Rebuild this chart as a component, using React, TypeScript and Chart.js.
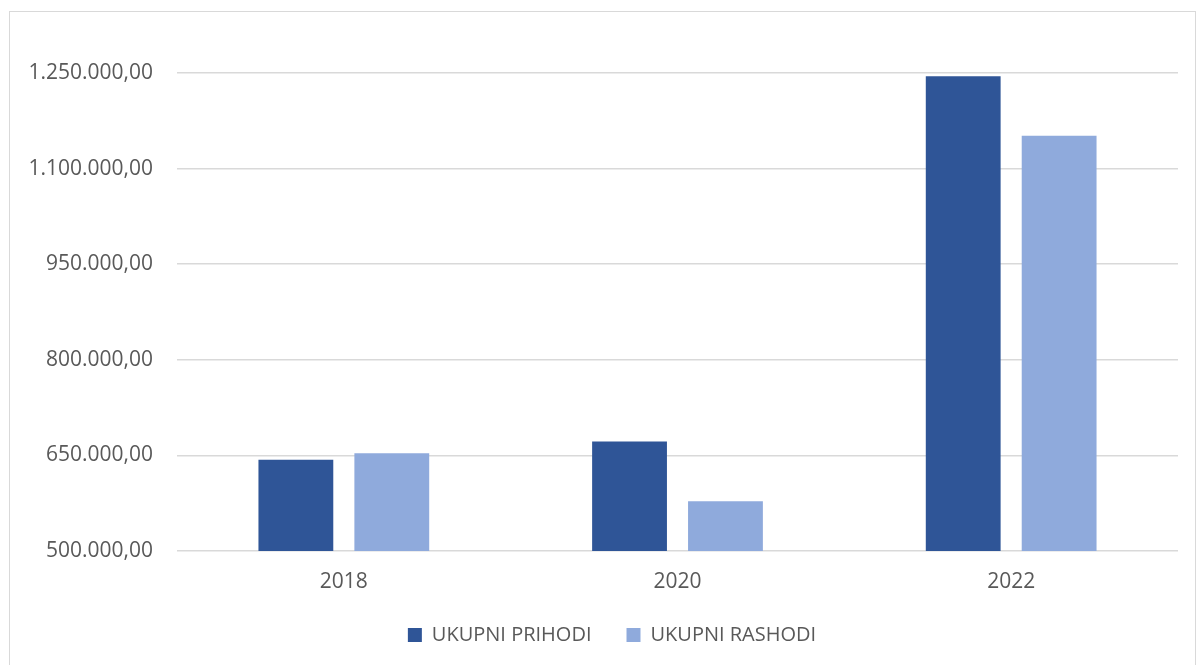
import React, { useEffect, useRef } from "react";
import { Chart, registerables } from "chart.js";

Chart.register(...registerables);

const categories = ["2018", "2020", "2022"];
const prihodi = [643000, 672000, 1245000];
const rashodi = [653500, 578000, 1151500];
const seriesNames = ["UKUPNI PRIHODI", "UKUPNI RASHODI"];
const yMin = 500000;
const yMax = 1250000;
const yStep = 150000;

function formatNumber(v: number): string {
  const intPart = Math.round(v).toString().replace(/\B(?=(\d{3})+(?!\d))/g, ".");
  return intPart + ",00";
}

const legendShift = {
  id: "legendShift",
  afterLayout(chart: any) {
    const lg = chart.legend;
    if (!lg) return;
    lg.left = 36;
    lg.right = chart.width - 16;
    const h = lg.bottom - lg.top;
    lg.top = lg.top - 20;
    lg.bottom = lg.top + h;
  },
};

export default function App() {
  const canvasRef = useRef<HTMLCanvasElement | null>(null);

  useEffect(() => {
    if (!canvasRef.current) return;
    const font = { family: "'Open Sans', sans-serif", size: 21 };
    const legendFont = { family: "'Open Sans', sans-serif", size: 20 };
    const chart = new Chart(canvasRef.current, {
      type: "bar",
      data: {
        labels: categories,
        datasets: [
          {
            label: seriesNames[0],
            data: prihodi,
            backgroundColor: "#2F5597",
            categoryPercentage: 0.575,
            barPercentage: 0.78,
          },
          {
            label: seriesNames[1],
            data: rashodi,
            backgroundColor: "#8FAADC",
            categoryPercentage: 0.575,
            barPercentage: 0.78,
          },
        ],
      },
      plugins: [legendShift],
      options: {
        responsive: false,
        animation: false,
        layout: { padding: { top: 61, right: 16, left: 0, bottom: 0 } },
        plugins: {
          legend: {
            position: "bottom",
            labels: {
              boxWidth: 14,
              boxHeight: 14,
              padding: 35,
              color: "#595959",
              font: legendFont,
            },
          },
          tooltip: { enabled: false },
        },
        scales: {
          x: {
            afterFit: (scale: any) => {
              scale.height = 59;
            },
            grid: { display: false, drawTicks: false },
            border: { display: false },
            ticks: { color: "#595959", font, padding: 18 },
          },
          y: {
            min: yMin,
            max: yMax,
            afterFit: (scale: any) => {
              scale.width = 167;
            },
            grid: { color: "#D9D9D9", lineWidth: 1.5, drawTicks: false },
            border: { display: false },
            ticks: {
              stepSize: yStep,
              color: "#595959",
              font,
              padding: 24,
              callback: (v: any) => formatNumber(Number(v)),
            },
          },
        },
      },
    });
    return () => chart.destroy();
  }, []);

  return (
    <div
      style={{
        position: "fixed",
        top: 11,
        left: 9,
        width: 1185,
        height: 670,
        border: "1px solid #D9D9D9",
        background: "#fff",
        overflow: "hidden",
      }}
    >
      <canvas
        ref={canvasRef}
        width={1184}
        height={663}
        style={{ display: "block", width: 1184, height: 663 }}
      />
    </div>
  );
}
